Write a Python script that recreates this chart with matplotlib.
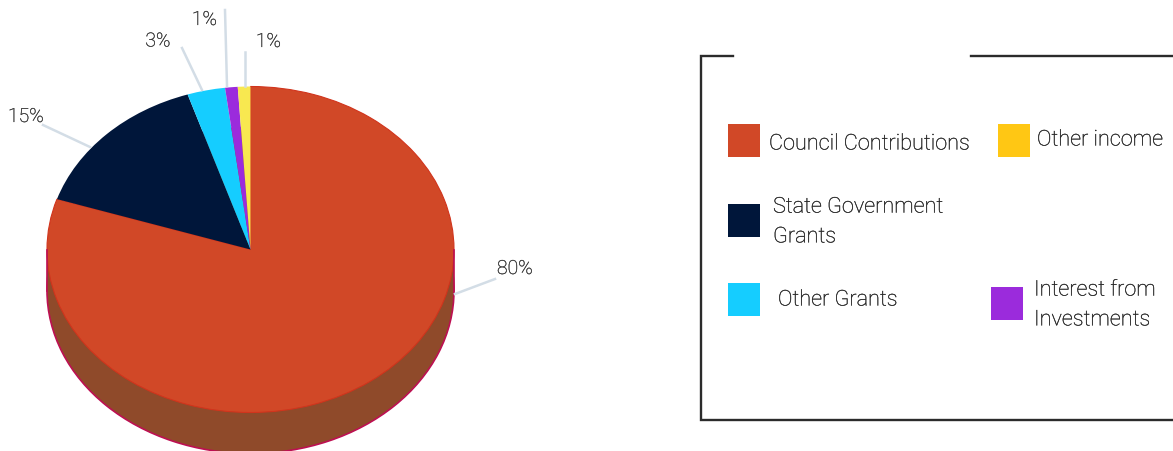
import matplotlib
matplotlib.use("Agg")
import matplotlib.pyplot as plt
import matplotlib.patheffects as pe
from matplotlib.patches import Rectangle

plt.rcParams['font.family'] = ['Roboto', 'DejaVu Sans']

# pie data, clockwise from the top
shares = [80, 15, 3, 1, 1]
share_labels = ['80%', '15%', '3%', '1%', '1%']
top_colors = ['#d14827', '#00163a', '#15cdff', '#9b2bdc', '#f8e850']

legend_labels = ['Council Contributions', 'Other income', 'State Government\nGrants',
                 'Other Grants', 'Interest from\nInvestments']
legend_colors = ['#d14827', '#ffc714', '#00163a', '#15cdff', '#9b2bdc']

W, H = 1173, 452
# pie geometry in pixels
cx, cy, rx, ry, depth = 250.5, 250.5, 203.5, 163, 41

fig = plt.figure(figsize=(W / 100, H / 100), dpi=100)

# pie axes: unit circle gets squashed to the ellipse through the limits
ax = fig.add_axes([0, 0, 1, 1])
d = depth / ry
ax.pie(shares, colors=['#8f4a2a'] * 5, startangle=90, counterclock=False, center=(0, -d),
       wedgeprops={'edgecolor': '#8f4a2a', 'linewidth': 0})
ax.pie([1], colors=['none'], center=(0, -d), wedgeprops={'edgecolor': '#bd0f52', 'linewidth': 1.2})
ax.add_patch(Rectangle((-1, -d), 2, d, facecolor='#8f4a2a', edgecolor='none'))
ax.plot([-1, -1], [-d, 0], color='#bd0f52', lw=1.2)
ax.plot([1, 1], [-d, 0], color='#bd0f52', lw=1.2)
wedges, _ = ax.pie(shares, colors=top_colors, startangle=90, counterclock=False)
wedges[0].set_edgecolor('#d1341c')
wedges[0].set_linewidth(0.8)
ax.set_aspect('auto')
ax.set_xlim(-cx / rx, (W - cx) / rx)
ax.set_ylim((cy - H) / ry, cy / ry)

# overlay in pixel coordinates for leaders, labels and the legend box
ov = fig.add_axes([0, 0, 1, 1])
ov.set_xlim(0, W)
ov.set_ylim(H - 1, -1)
ov.axis('off')

# browser text renders heavier than Agg light, thicken it a little
thick = [pe.withStroke(linewidth=0.2, foreground='#444444')]

leaders = [((455, 294), (495, 279)), ((90, 147), (43, 125)), ((202, 90), (182, 48)),
           ((227, 86), (225, 10)), ((245, 86), (245, 52))]
label_pos = [(515, 269), (26, 117), (158, 41.5), (204.5, 20), (268.5, 42)]
for seg, pos, txt in zip(leaders, label_pos, share_labels):
    ov.plot([seg[0][0], seg[1][0]], [seg[0][1], seg[1][1]], color='#d3dde6', lw=1.8)
    ov.text(pos[0], pos[1], txt, fontsize=14, fontweight='light', color='#333333',
            ha='center', va='center', path_effects=thick)

# legend frame, the top has a gap where the title would sit
frame = '#2b2b2b'
ov.plot([733, 701, 701, W], [56, 56, 420, 420], color=frame, lw=1.7, solid_joinstyle='miter')
ov.plot([971, W], [56, 56], color=frame, lw=1.7)

swatches = [(728, 123.5), (998, 123.5), (728, 204), (728, 282.5), (991, 287)]
text_pos = [(769, 144), (1037, 140), (773, 222), (778, 300), (1034, 305)]
for sw, tp, lab, col in zip(swatches, text_pos, legend_labels, legend_colors):
    ov.add_patch(Rectangle(sw, 32, 33, facecolor=col, edgecolor='none'))
    ov.text(tp[0], tp[1], lab, fontsize=15.6, fontweight='light', color='#222222',
            ha='left', va='center', linespacing=1.55, path_effects=thick)

fig.savefig('out.png', dpi=100)
